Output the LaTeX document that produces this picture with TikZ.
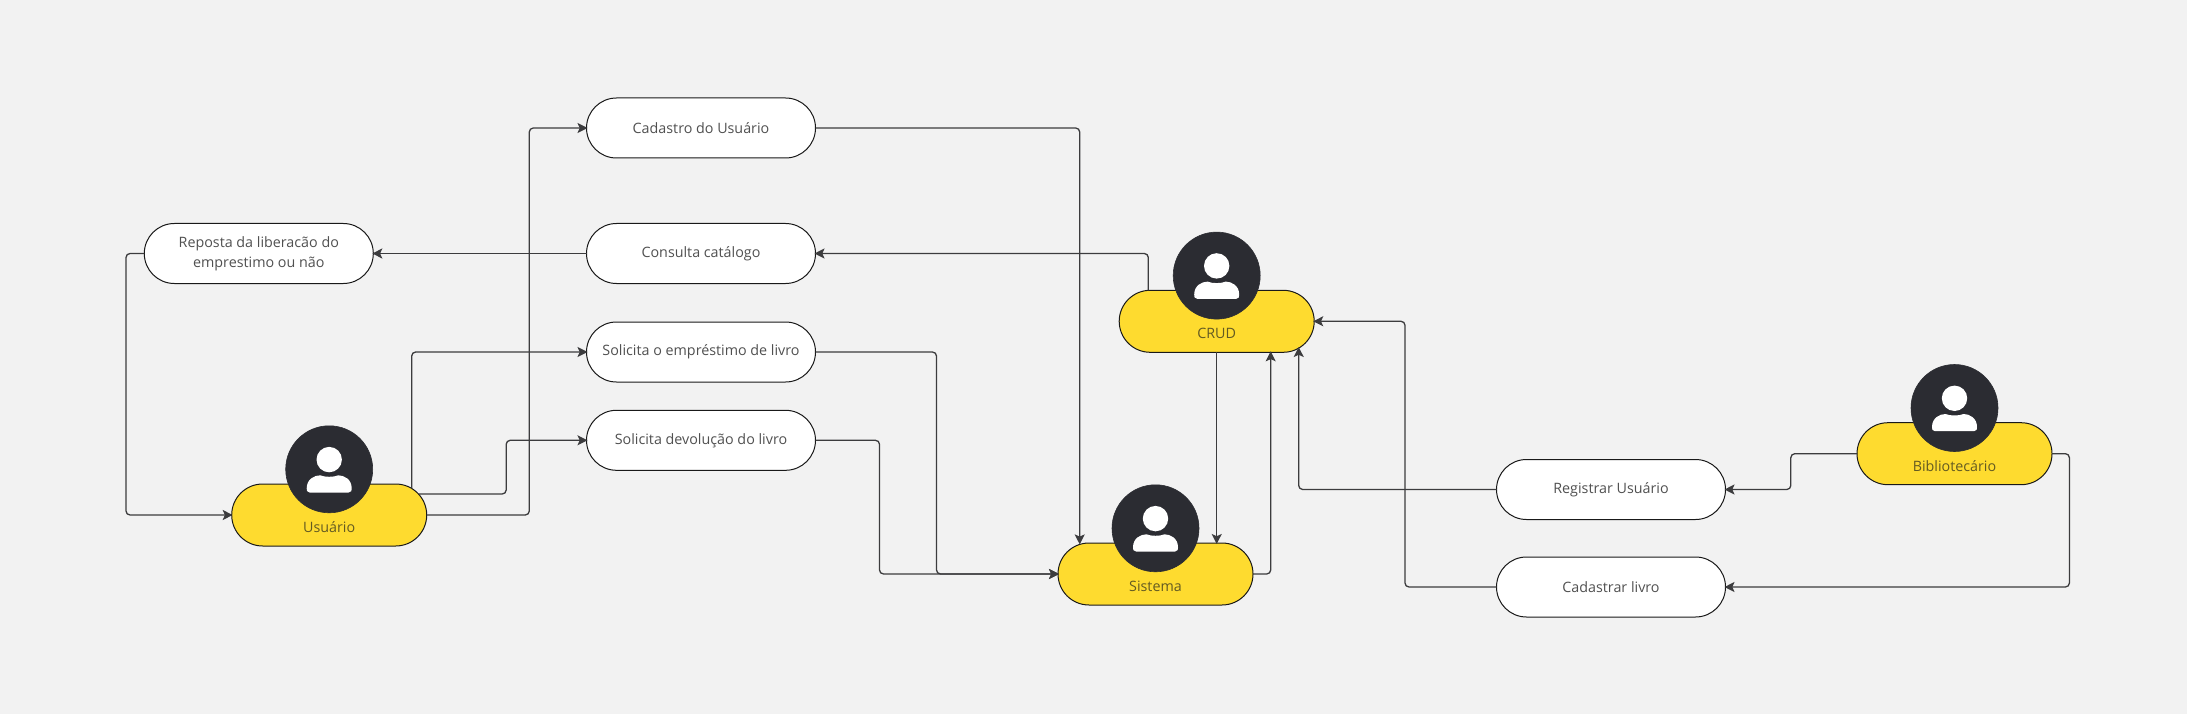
\documentclass[tikz,border=0pt]{standalone}
\usepackage{fontspec}
\setmainfont{Open Sans}
\usetikzlibrary{shapes.misc,arrows.meta,calc}
\definecolor{bgc}{HTML}{F2F2F2}
\definecolor{yel}{HTML}{FEDB2F}
\definecolor{dark}{HTML}{2B2C32}
\definecolor{linec}{HTML}{3C3C3E}
\definecolor{txt}{HTML}{505050}
\definecolor{actxt}{HTML}{635A22}
\tikzset{
  pillbase/.style={rounded rectangle,rounded rectangle arc length=180,draw=black!90,line width=1pt,inner sep=0pt,outer sep=0pt,align=center,text=txt,
    font=\fontsize{14.3}{20}\selectfont},
  usecase/.style={pillbase,fill=white,minimum width=229pt,minimum height=60pt},
  actorpill/.style={pillbase,fill=yel,minimum width=195pt,minimum height=62pt},
  actorhead/.style={circle,fill=dark,draw=dark,line width=.6pt,minimum size=87pt,inner sep=0pt},
  actorname/.style={inner sep=0pt,text=actxt,font=\fontsize{14.3}{20}\selectfont},
  conn/.style={draw=linec,line width=1.3pt,rounded corners=4pt,shorten >=-1pt,-{Stealth[length=10pt,width=10pt,inset=2.2pt]}}
}
\newcommand{\actorfig}[4]{%
  \node[actorpill] (#1) at (#2,#3) {};
  \node[actorhead] (#1head) at ($(#1.center)+(0,-45.7)$) {};
  \node[actorname] (#1name) at ($(#1.center)+(0,12.3)$) {#4};
  \begin{scope}[shift={(#1head.center)}]
    \fill[white] (0,-9.7) circle[radius=12.7];
    \fill[white] (-19.5,23.2) .. controls (-22.5,23.2) and (-22.5,21) .. (-22.5,19)
      .. controls (-22.5,10) and (-15,6) .. (-9,6) .. controls (-5,8) and (5,8) .. (9,6)
      .. controls (15,6) and (22.5,10) .. (22.5,19) .. controls (22.5,21) and (22.5,23.2) .. (19.5,23.2) -- cycle;
  \end{scope}
}
\begin{document}
\begin{tikzpicture}[x=1pt,y=-1pt]
\fill[bgc] (0,0) rectangle (2187,714);
\useasboundingbox (0,0) rectangle (2187,714);
\node[usecase] (cad) at (701,128) {\raisebox{-2pt}{Cadastro do Usuário}};
\node[usecase] (con) at (701,253.5) {\raisebox{-2pt}{Consulta catálogo}};
\node[usecase] (rep) at (258.8,253.5) {\raisebox{-2.4pt}{Reposta da liberacão do}\\\raisebox{-2.4pt}{emprestimo ou não}};
\node[usecase] (emp) at (701,352) {\raisebox{-2pt}{Solicita o empréstimo de livro}};
\node[usecase] (dev) at (701,440.3) {\raisebox{-2pt}{Solicita devolução do livro}};
\node[usecase] (reg) at (1611,489.5) {\raisebox{-2pt}{Registrar Usuário}};
\node[usecase] (cal) at (1611,587) {\raisebox{-2pt}{Cadastrar livro}};
\actorfig{usu}{329.2}{515}{Usuário}
\actorfig{crud}{1216.7}{321.3}{CRUD}
\actorfig{sis}{1155.5}{574}{Sistema}
\actorfig{bib}{1954.5}{453.7}{Bibliotecário}
% Usuario
\draw[conn] ($(usu.center)+(82.5,-26.5)$) |- (emp.west);
\draw[conn] ($(usu.center)+(89.5,-21)$) -- ++(87.5,0) |- (dev.west);
\draw[conn] (usu.east) -- ++(102.6,0) |- (cad.west);
\draw[conn] (rep.west) -- ++(-18.3,0) |- (usu.west);
\draw[conn] (con.west) -- (rep.east);
% CRUD / Sistema
\draw[conn] ($(crud.center)+(-68.4,-31)$) |- (con.east);
\draw[conn] (cad.east) -| ($(sis.center)+(-75.8,-30.6)$);
\draw[conn] (emp.east) -- ++(121,0) |- (sis.west);
\draw[conn] (dev.east) -- ++(64,0) |- (sis.west);
\draw[conn] (crud.south) -- ($(sis.center)+(61.2,-31)$);
\draw[conn] (sis.east) -| ($(crud.center)+(54,31)$);
\draw[conn] (reg.west) -| ($(crud.center)+(82,26.7)$);
\draw[conn] (cal.west) -- ++(-91.5,0) |- (crud.east);
% Bibliotecario
\draw[conn] (bib.west) -- ++(-66.2,0) |- (reg.east);
\draw[conn] (bib.east) -- ++(17.4,0) |- (cal.east);
\end{tikzpicture}
\end{document}
